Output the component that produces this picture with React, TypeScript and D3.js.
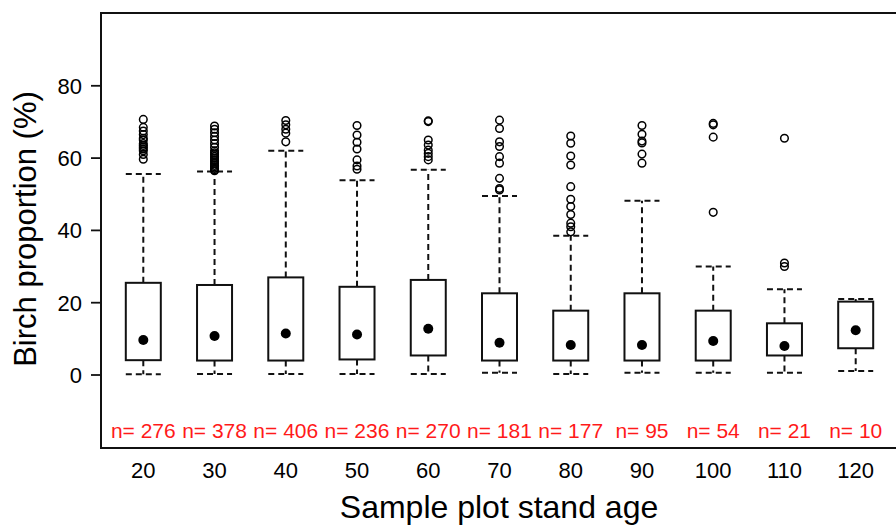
import React from 'react';
import * as d3 from 'd3';

// stand age classes and sample sizes
const ages = [20, 30, 40, 50, 60, 70, 80, 90, 100, 110, 120];
const counts = [276, 378, 406, 236, 270, 181, 177, 95, 54, 21, 10];

// box statistics (birch proportion, %)
const lowerWhisker = [0.2, 0.3, 0.3, 0.3, 0.3, 0.6, 0.3, 0.6, 0.6, 0.6, 1.1];
const q1 = [4.1, 4.0, 4.0, 4.3, 5.4, 4.0, 4.0, 4.0, 4.0, 5.4, 7.4];
const medians = [9.7, 10.8, 11.5, 11.2, 12.8, 8.9, 8.3, 8.3, 9.4, 8.0, 12.4];
const q3 = [25.5, 24.9, 27.0, 24.4, 26.3, 22.6, 17.8, 22.6, 17.8, 14.3, 20.3];
const upperWhisker = [55.6, 56.3, 62.0, 53.9, 56.8, 49.5, 38.5, 48.2, 30.0, 23.7, 21.0];
const outliers = [
  [59.7, 61, 62, 62.5, 63, 63.5, 64, 65, 65.5, 66.5, 67.5, 68.5, 70.7],
  [56.5, 56.8, 57.2, 57.6, 58, 58.5, 59, 59.5, 60, 60.5, 61, 61.5, 62, 63, 64, 65, 66, 67, 68, 68.9],
  [64.5, 66.9, 68.0, 69.2, 70.4],
  [56.9, 57.8, 59.5, 62.5, 64.4, 66.4, 69],
  [59.5, 60.4, 61.3, 62.2, 63.6, 65, 70.1, 70.3],
  [51.2, 51.6, 54.4, 58.6, 60.4, 63.2, 64.5, 68.2, 70.5],
  [39.6, 41, 42, 44.4, 46.6, 48.6, 52.1, 58.1, 60.6, 64.1, 66.1],
  [58.6, 61.1, 64.2, 64.7, 66.6, 69],
  [45, 65.8, 69.2, 69.6],
  [30.0, 31.0, 65.5],
  [],
];
const yTicks = [0, 20, 40, 60, 80];

const width = 896;
const height = 526;
const frame = { left: 101, right: 898, top: 13, bottom: 448 };
const font = '"Liberation Sans", Arial, sans-serif';

const App: React.FC = () => {
  const x = d3.scalePoint<number>().domain(ages).range([143.3, 855.7]);
  const y = d3.scaleLinear().domain([0, 80]).range([375, 85.8]);
  const half = 17.5;
  const dash = '6,4';
  const ink = '#111';

  return (
    <svg width={width} height={height} style={{ position: 'absolute', left: 0, top: 0, background: '#fff' }}
      fontFamily={font}>
      {/* plot frame */}
      <rect x={frame.left} y={frame.top} width={frame.right - frame.left} height={frame.bottom - frame.top}
        fill="none" stroke={ink} strokeWidth={2} />

      {/* y axis */}
      {yTicks.map(t => (
        <g key={t}>
          <line x1={frame.left - 10} x2={frame.left} y1={y(t)} y2={y(t)} stroke={ink} strokeWidth={1.8} />
          <text x={82} y={y(t)} dy="0.36em" textAnchor="end" fontSize={22} fill="#000">{t}</text>
        </g>
      ))}
      <text transform={`translate(36,229) rotate(-90)`} textAnchor="middle" fontSize={31} fill="#000">
        Birch proportion (%)
      </text>

      {/* x axis labels */}
      {ages.map(a => (
        <text key={a} x={x(a)} y={478} textAnchor="middle" fontSize={22} fill="#000">{a}</text>
      ))}
      <text x={499} y={518} textAnchor="middle" fontSize={32} fill="#000">Sample plot stand age</text>

      {/* boxes */}
      {ages.map((a, i) => {
        const cx = x(a) as number;
        return (
          <g key={a} stroke={ink} strokeWidth={2}>
            <line x1={cx} x2={cx} y1={y(q3[i])} y2={y(upperWhisker[i])} strokeDasharray={dash} />
            <line x1={cx} x2={cx} y1={y(q1[i])} y2={y(lowerWhisker[i])} strokeDasharray={dash} />
            <line x1={cx - half} x2={cx + half} y1={y(upperWhisker[i])} y2={y(upperWhisker[i])} strokeDasharray={dash} />
            <line x1={cx - half} x2={cx + half} y1={y(lowerWhisker[i])} y2={y(lowerWhisker[i])} strokeDasharray={dash} />
            <rect x={cx - half} y={y(q3[i])} width={half * 2} height={y(q1[i]) - y(q3[i])} fill="#fff" />
            <circle cx={cx} cy={y(medians[i])} r={5} fill="#000" stroke="none" />
            {outliers[i].map((v, j) => (
              <circle key={j} cx={cx} cy={y(v)} r={3.8} fill="none" stroke="#000" strokeWidth={1.5} />
            ))}
          </g>
        );
      })}

      {/* sample sizes */}
      {ages.map((a, i) => (
        <text key={a} x={x(a)} y={438} textAnchor="middle" fontSize={21} fill="#ff1a1a">
          {`n= ${counts[i]}`}
        </text>
      ))}
    </svg>
  );
};

export default App;
